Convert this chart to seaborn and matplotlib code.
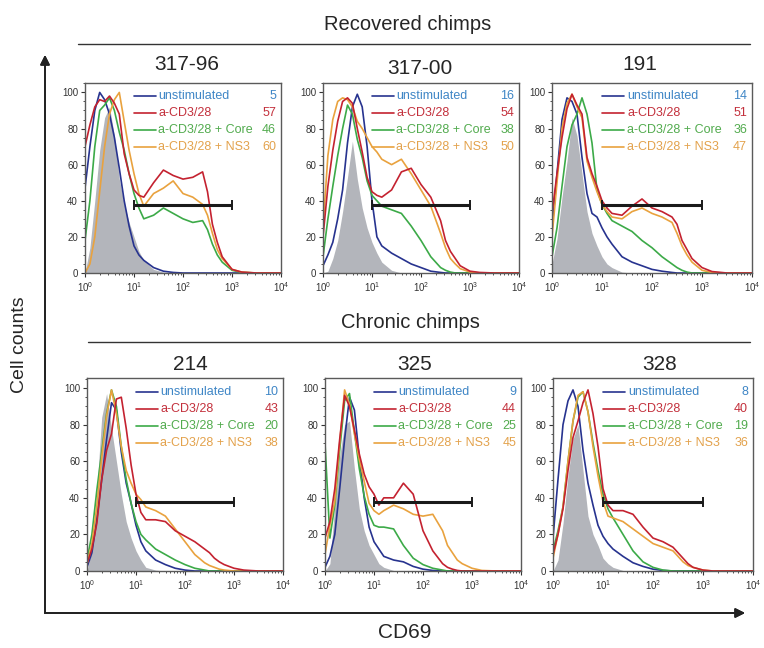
import numpy as np
import pandas as pd
import seaborn as sns
import matplotlib.pyplot as plt
from matplotlib.lines import Line2D
from matplotlib.ticker import AutoMinorLocator, LogLocator, NullFormatter

LOG_CD69 = [0.0, 0.1, 0.2, 0.3, 0.4, 0.5, 0.6, 0.7, 0.8, 0.9, 1.0, 1.1, 1.2,
            1.4, 1.6, 1.8, 2.0, 2.2, 2.4, 2.5, 2.6, 2.7, 2.8, 3.0, 3.2, 3.5, 4.0]

conditions = ["unstimulated", "a-CD3/28", "a-CD3/28 + Core", "a-CD3/28 + NS3"]

# gate (CD69 from, to, drawn at count)
GATE = (10, 1000, 37.5)

# ---- Recovered chimps ----
iso_317_96 = [0, 14, 40, 68, 86, 92, 76, 52, 38, 28, 20, 12, 7, 2, 0.5, 0, 0, 0, 0, 0, 0, 0, 0, 0, 0, 0, 0]
uns_317_96 = [47, 70, 90, 100, 96, 88, 75, 58, 40, 26, 15, 10, 7, 3, 1, 0.3, 0, 0, 0, 0, 0, 0, 0, 0, 0, 0, 0]
cd3_317_96 = [70, 82, 92, 96, 95, 98, 94, 88, 66, 55, 46, 43, 42, 50, 57, 54, 52, 53, 56, 45, 27, 17, 9, 2, 0.5, 0, 0]
core_317_96 = [18, 40, 70, 90, 93, 97, 90, 78, 68, 55, 44, 36, 30, 32, 36, 33, 30, 28, 29, 24, 16, 10, 6, 1.5, 0.3, 0, 0]
ns3_317_96 = [0, 5, 20, 45, 70, 88, 96, 100, 84, 68, 55, 44, 37, 44, 47, 51, 44, 42, 38, 32, 22, 13, 8, 2, 0.5, 0, 0]
pct_317_96 = [5, 57, 46, 60]

iso_317_00 = [0, 1, 8, 18, 34, 53, 73, 52, 36, 25, 17, 11, 6, 1.5, 0, 0, 0, 0, 0, 0, 0, 0, 0, 0, 0, 0, 0]
uns_317_00 = [4, 10, 17, 30, 46, 72, 92, 99, 92, 70, 40, 20, 15, 11, 8, 5, 3, 1, 0.3, 0, 0, 0, 0, 0, 0, 0, 0]
cd3_317_00 = [20, 48, 68, 84, 95, 97, 94, 80, 67, 53, 45, 43, 42, 46, 56, 58, 49, 42, 29, 18, 12, 8, 4, 1, 0.3, 0, 0]
core_317_00 = [9, 30, 48, 65, 80, 93, 88, 74, 64, 51, 43, 40, 37, 35, 33, 26, 18, 9, 3, 1.5, 0.5, 0, 0, 0, 0, 0, 0]
ns3_317_00 = [25, 65, 85, 95, 97, 96, 92, 84, 80, 75, 70, 67, 63, 60, 63, 55, 46, 37, 22, 14, 8, 5, 2.4, 0.5, 0, 0, 0]
pct_317_00 = [16, 54, 38, 50]

iso_191 = [5, 19, 42, 62, 86, 76, 55, 34, 22, 15, 9, 5, 3, 0.5, 0, 0, 0, 0, 0, 0, 0, 0, 0, 0, 0, 0, 0]
uns_191 = [24, 55, 85, 97, 95, 88, 64, 44, 33, 31, 25, 20, 16, 9, 6, 4, 2, 1, 0.3, 0, 0, 0, 0, 0, 0, 0, 0]
cd3_191 = [33, 55, 75, 91, 99, 93, 88, 64, 55, 48, 40, 36, 33, 32, 37, 41, 36, 34, 31, 27, 18, 13, 8, 3, 0.8, 0, 0]
core_191 = [9, 25, 48, 70, 82, 88, 97, 88, 72, 46, 38, 33, 29, 26, 23, 18, 14, 9, 5, 3, 1.5, 0.5, 0, 0, 0, 0, 0]
ns3_191 = [20, 50, 80, 94, 99, 92, 86, 62, 53, 45, 38, 34, 31, 30, 34, 36, 33, 31, 28, 22, 15, 10, 6, 1.5, 0.3, 0, 0]
pct_191 = [14, 51, 36, 47]

# ---- Chronic chimps ----
iso_214 = [0, 12, 44, 84, 97, 78, 60, 42, 27, 18, 11, 6, 2, 0.5, 0, 0, 0, 0, 0, 0, 0, 0, 0, 0, 0, 0, 0]
uns_214 = [2, 10, 28, 50, 72, 92, 88, 65, 48, 37, 25, 16, 11, 6, 3.5, 1.5, 0.5, 0, 0, 0, 0, 0, 0, 0, 0, 0, 0]
cd3_214 = [4, 12, 26, 50, 66, 75, 94, 95, 78, 58, 42, 32, 28, 28, 27, 22, 19, 16, 12, 10, 7, 5, 3.5, 1.5, 0.5, 0, 0]
core_214 = [6, 20, 44, 65, 86, 99, 90, 68, 50, 37, 27, 20, 17, 12, 9, 6, 3.5, 1.5, 0.5, 0, 0, 0, 0, 0, 0, 0, 0]
ns3_214 = [4, 15, 35, 62, 85, 99, 86, 68, 55, 48, 42, 39, 35, 33, 30, 23, 16, 9, 4.5, 3, 2, 1, 0.5, 0, 0, 0, 0]
pct_214 = [10, 43, 20, 38]

iso_325 = [0, 4, 36, 63, 80, 82, 56, 34, 22, 14, 9, 4, 2, 0.3, 0, 0, 0, 0, 0, 0, 0, 0, 0, 0, 0, 0, 0]
uns_325 = [2, 8, 20, 45, 72, 95, 88, 62, 40, 24, 16, 12, 8, 6, 5, 2.5, 1, 0.3, 0, 0, 0, 0, 0, 0, 0, 0, 0]
cd3_325 = [18, 27, 45, 72, 96, 90, 77, 64, 53, 46, 42, 36, 40, 40, 48, 42, 22, 11, 4, 2, 1, 0.3, 0, 0, 0, 0, 0]
core_325 = [70, 18, 36, 66, 93, 97, 76, 56, 41, 31, 25, 24, 24, 23, 14, 7, 3.5, 1.5, 0.5, 0, 0, 0, 0, 0, 0, 0, 0]
ns3_325 = [9, 25, 38, 70, 99, 91, 75, 61, 49, 37, 33, 31, 33, 36, 34, 31, 30, 31, 22, 14, 10, 6, 4, 1.5, 0.3, 0, 0]
pct_325 = [9, 44, 25, 45]

iso_328 = [0, 6, 26, 52, 72, 80, 55, 30, 20, 14, 7, 4, 2, 0.3, 0, 0, 0, 0, 0, 0, 0, 0, 0, 0, 0, 0, 0]
uns_328 = [18, 50, 80, 93, 99, 90, 66, 48, 36, 25, 19, 15, 12, 8, 4.5, 2.5, 1, 0.3, 0, 0, 0, 0, 0, 0, 0, 0, 0]
cd3_328 = [9, 20, 34, 55, 73, 82, 92, 99, 86, 68, 45, 36, 33, 33, 31, 24, 18, 16, 13, 10, 7, 4, 2, 0.5, 0, 0, 0]
core_328 = [11, 22, 35, 60, 82, 95, 98, 87, 70, 55, 42, 34, 29, 20, 11, 5, 2, 0.5, 0, 0, 0, 0, 0, 0, 0, 0, 0]
ns3_328 = [7, 20, 35, 60, 82, 96, 98, 87, 68, 52, 38, 30, 29, 27, 23, 19, 15, 13, 11, 8, 5, 3, 2, 0.5, 0, 0, 0]
pct_328 = [8, 40, 19, 36]

line_colors = {"unstimulated": "#27338f", "a-CD3/28": "#c42230",
               "a-CD3/28 + Core": "#3caa48", "a-CD3/28 + NS3": "#e9a23e"}
text_colors = {"unstimulated": "#3f86c6", "a-CD3/28": "#c3303c",
               "a-CD3/28 + Core": "#52ab4e", "a-CD3/28 + NS3": "#e3a24c"}
ISO_COLOR = "#b3b5bb"
draw_order = ["unstimulated", "a-CD3/28 + Core", "a-CD3/28 + NS3", "a-CD3/28"]

W, H = 764, 648


def fx(px):
    return px / W


def fy(py):
    return 1 - py / H


def draw_panel(ax, iso, traces, pcts):
    x = 10 ** np.array(LOG_CD69)
    ax.fill_between(x, 0, iso, color=ISO_COLOR, lw=0, zorder=1)

    df = pd.DataFrame({c: t for c, t in zip(conditions, traces)})
    df["CD69"] = x
    long_df = df.melt(id_vars="CD69", var_name="condition", value_name="count")
    sns.lineplot(data=long_df, x="CD69", y="count", hue="condition",
                 hue_order=draw_order, palette=line_colors, estimator=None,
                 legend=False, lw=1.2, ax=ax, zorder=2)

    # gate bar
    g0, g1, gy = GATE
    ax.plot([g0, g1], [gy, gy], color="#1a1a1a", lw=2.2, zorder=4,
            solid_capstyle="butt")
    ax.plot([g0, g1], [gy, gy], ls="none", marker="|", ms=7, mew=1.4,
            color="#1a1a1a", zorder=4)

    # in-panel legend
    leg_y = [0.927, 0.839, 0.751, 0.663]
    for cond, y, p in zip(conditions, leg_y, pcts):
        ax.plot([0.25, 0.36], [y, y], transform=ax.transAxes,
                color=line_colors[cond], lw=1.2, zorder=5)
        ax.text(0.375, y, cond, transform=ax.transAxes, color=text_colors[cond],
                fontsize=9, va="center", ha="left", zorder=5)
        ax.text(0.975, y, str(p), transform=ax.transAxes, color=text_colors[cond],
                fontsize=9, va="center", ha="right", zorder=5)

    ax.set_xscale("log")
    ax.set_xlim(1, 1e4)
    ax.set_ylim(0, 105.5)
    ax.set_yticks([0, 20, 40, 60, 80, 100])
    ax.yaxis.set_minor_locator(AutoMinorLocator(4))
    ax.xaxis.set_major_locator(LogLocator(base=10, numticks=10))
    ax.xaxis.set_minor_locator(LogLocator(base=10, subs=np.arange(2, 10), numticks=10))
    ax.xaxis.set_minor_formatter(NullFormatter())
    ax.set_xlabel("")
    ax.set_ylabel("")
    ax.tick_params(which="major", direction="out", length=3, width=0.8,
                   labelsize=7, pad=2, colors="#333333")
    ax.tick_params(which="minor", direction="out", length=1.6, width=0.6,
                   colors="#333333")
    for s in ax.spines.values():
        s.set_visible(True)
        s.set_color("#5a5a5a")
        s.set_linewidth(1.0)


sns.set_style("ticks")
plt.rcParams["font.family"] = ["Liberation Sans", "DejaVu Sans"]
plt.rcParams["mathtext.default"] = "regular"

fig = plt.figure(figsize=(W / 100, H / 100), dpi=100)

panels = [
    # name, left px, top px, width px, height px, title pos
    ("317-96", 85, 82.5, 196, 190.5, (187, 65), iso_317_96,
     [uns_317_96, cd3_317_96, core_317_96, ns3_317_96], pct_317_96),
    ("317-00", 323, 82.5, 196, 190.5, (420, 68), iso_317_00,
     [uns_317_00, cd3_317_00, core_317_00, ns3_317_00], pct_317_00),
    ("191", 552, 82.5, 200, 190.5, (640, 65), iso_191,
     [uns_191, cd3_191, core_191, ns3_191], pct_191),
    ("214", 87, 378, 196, 193, (190, 365), iso_214,
     [uns_214, cd3_214, core_214, ns3_214], pct_214),
    ("325", 325, 378, 196, 193, (415, 365), iso_325,
     [uns_325, cd3_325, core_325, ns3_325], pct_325),
    ("328", 553, 378, 200, 193, (660, 365), iso_328,
     [uns_328, cd3_328, core_328, ns3_328], pct_328),
]

for name, l, t, w, h, tpos, iso, traces, pcts in panels:
    ax = fig.add_axes([fx(l), fy(t + h), w / W, h / H])
    draw_panel(ax, iso, traces, pcts)
    fig.text(fx(tpos[0]), fy(tpos[1]), name, fontsize=15, ha="center", va="center")

# group headers
fig.text(fx(408), fy(25), "Recovered chimps", fontsize=14.5, ha="center", va="center")
fig.add_artist(Line2D([fx(78), fx(750)], [fy(44), fy(44)], color="#333333", lw=1.0))
fig.text(fx(410), fy(323), "Chronic chimps", fontsize=14.5, ha="center", va="center")
fig.add_artist(Line2D([fx(88), fx(750)], [fy(342), fy(342)], color="#333333", lw=1.0))

# outer axis arrows
arrow = dict(arrowstyle="-|>", color="#222222", lw=1.3, mutation_scale=14,
             shrinkA=0, shrinkB=0)
fig.add_artist(plt.annotate("", xy=(fx(45), fy(55)), xytext=(fx(45), fy(613)),
                            xycoords="figure fraction", textcoords="figure fraction",
                            arrowprops=arrow))
fig.add_artist(plt.annotate("", xy=(fx(745), fy(613)), xytext=(fx(45), fy(613)),
                            xycoords="figure fraction", textcoords="figure fraction",
                            arrowprops=arrow))
fig.text(fx(20), fy(345), "Cell counts", fontsize=14, rotation=90,
         ha="center", va="center")
fig.text(fx(405), fy(633), "CD69", fontsize=15, ha="center", va="center")

fig.savefig("out.png", dpi=100)
